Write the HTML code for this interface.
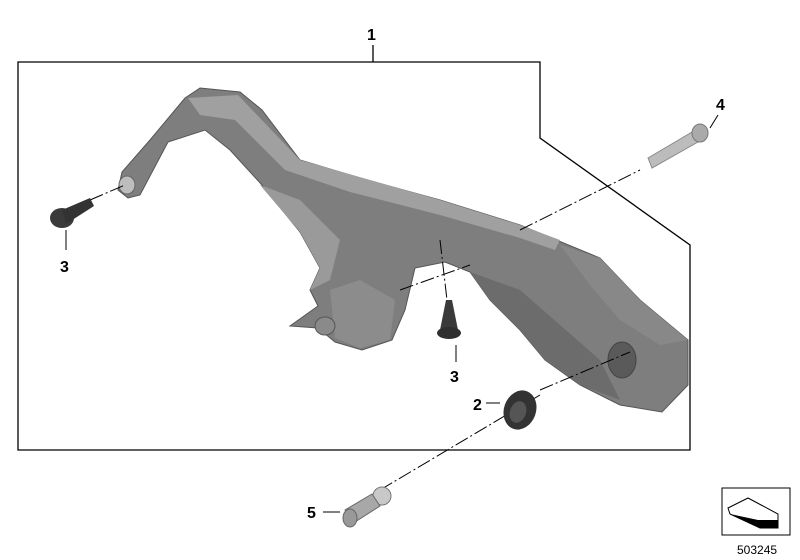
<!DOCTYPE html>
<html><head><meta charset="utf-8"><style>
html,body{margin:0;padding:0;background:#fff;}
svg{display:block;}
text{font-family:"Liberation Sans",sans-serif;font-weight:bold;font-size:16px;fill:#000;}
</style></head><body>
<svg width="800" height="560" viewBox="0 0 800 560">
<polyline points="373,45 373,62" stroke="#000" stroke-width="1.3" fill="none"/>
<polygon points="18,62 540,62 540,138 690,245 690,450 18,450" stroke="#000" stroke-width="1.3" fill="none"/>
<text x="367" y="40">1</text>

<!-- bracket -->
<polygon points="118,190 122,172 150,140 185,98 200,88 240,92 262,110 300,160 360,178 440,200 520,225 600,258 640,300 688,340 688,385 662,412 620,405 580,385 545,360 520,330 490,300 470,272 445,262 415,268 405,310 392,340 362,350 335,342 318,328 290,326 318,306 310,290 320,268 300,232 262,185 230,150 205,130 168,142 140,195 128,198"
 fill="#7e7e7e" stroke="#555" stroke-width="1"/>
<polygon points="188,98 238,95 300,160 440,200 520,225 560,240 555,250 520,238 440,215 350,192 285,170 235,120 200,115" fill="#a0a0a0"/>
<polygon points="260,185 300,232 320,268 310,290 330,280 340,240 300,200" fill="#9a9a9a"/>
<polygon points="330,290 360,280 395,300 390,340 360,348 335,338" fill="#8c8c8c"/>
<polygon points="470,272 520,290 600,360 620,400 580,385 545,360 520,330 490,300" fill="#6c6c6c"/>
<polygon points="560,245 600,258 640,300 688,340 660,345 620,320 590,285" fill="#888"/>
<ellipse cx="622" cy="360" rx="14" ry="18" fill="#5a5a5a" stroke="#444"/>
<ellipse cx="325" cy="326" rx="10" ry="9" fill="#8a8a8a" stroke="#555"/>
<ellipse cx="127" cy="185" rx="8" ry="9" fill="#bdbdbd" stroke="#666"/>

<g stroke="#000" stroke-width="1" stroke-dasharray="14,3,2,3" fill="none">
<line x1="90" y1="200" x2="125" y2="185"/>
<line x1="520" y1="230" x2="640" y2="170"/>
<line x1="400" y1="290" x2="470" y2="265"/>
<line x1="440" y1="240" x2="447" y2="300"/>
<line x1="540" y1="390" x2="630" y2="352"/>
<line x1="380" y1="490" x2="540" y2="395"/>
</g>

<ellipse cx="62" cy="218" rx="12" ry="10" fill="#3a3a3a"/>
<polygon points="62,210 90,198 94,206 66,224" fill="#333"/>
<line x1="66" y1="230" x2="66" y2="250" stroke="#000"/>
<text x="60" y="272">3</text>

<polygon points="446,300 452,300 458,330 440,330" fill="#3a3a3a"/>
<ellipse cx="449" cy="333" rx="12" ry="6" fill="#2f2f2f"/>
<line x1="456" y1="345" x2="456" y2="362" stroke="#000"/>
<text x="450" y="382">3</text>

<text x="473" y="410">2</text>
<line x1="486" y1="403" x2="500" y2="403" stroke="#000"/>
<ellipse cx="520" cy="410" rx="16" ry="20" fill="#333" transform="rotate(20 520 410)"/>
<ellipse cx="518" cy="412" rx="8" ry="11" fill="#555" transform="rotate(20 518 412)"/>

<polygon points="648,158 692,132 698,142 652,168" fill="#bcbcbc" stroke="#888"/>
<ellipse cx="700" cy="133" rx="8" ry="9" fill="#aaa" stroke="#777"/>
<line x1="718" y1="115" x2="710" y2="128" stroke="#000"/>
<text x="716" y="110">4</text>

<circle cx="382" cy="496" r="9" fill="#c8c8c8" stroke="#777"/>
<polygon points="345,510 372,494 380,506 355,522" fill="#a8a8a8" stroke="#666"/>
<ellipse cx="350" cy="518" rx="7" ry="9" fill="#999" stroke="#666"/>
<line x1="323" y1="512" x2="340" y2="512" stroke="#000"/>
<text x="307" y="518">5</text>

<rect x="722" y="488" width="68" height="47" fill="#fff" stroke="#000" stroke-width="1"/>
<polygon points="728,508 748,498 778,514 778,528 760,528 730,514" fill="none" stroke="#000"/>
<polygon points="730,514 760,528 778,528 778,520 758,520" fill="#000"/>
<text x="737" y="554" style="font-weight:normal;font-size:12px">503245</text>
</svg>
</body></html>
